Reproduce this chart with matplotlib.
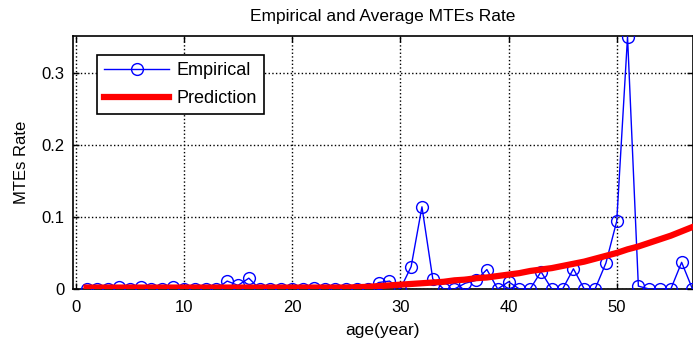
import matplotlib
matplotlib.use("Agg")
import matplotlib.pyplot as plt

plt.rcParams['font.family'] = ['Liberation Sans', 'DejaVu Sans']

ages = list(range(1, 58))
empirical = [0, 0, 0, 0.003, 0, 0.003, 0, 0, 0.003, 0,
             0, 0, 0, 0.011, 0.005, 0.015, 0, 0, 0, 0,
             0, 0.002, 0, 0, 0, 0, 0, 0.009, 0.011, 0,
             0.031, 0.114, 0.014, 0, 0, 0.008, 0.012, 0.027, 0, 0.010,
             0, 0, 0.024, 0, 0, 0.028, 0, 0, 0.036, 0.094,
             0.350, 0.004, 0, 0, 0, 0.037, 0]
prediction = [0.002, 0.002, 0.002, 0.002, 0.002, 0.002, 0.002, 0.002, 0.002, 0.002,
              0.002, 0.002, 0.002, 0.002, 0.002, 0.002, 0.002, 0.002, 0.002, 0.002,
              0.002, 0.002, 0.002, 0.002, 0.002, 0.0025, 0.003, 0.004, 0.005, 0.006,
              0.007, 0.008, 0.009, 0.010, 0.012, 0.013, 0.015, 0.016, 0.018, 0.020,
              0.022, 0.025, 0.027, 0.029, 0.032, 0.035, 0.038, 0.042, 0.046, 0.050,
              0.055, 0.059, 0.064, 0.069, 0.074, 0.080, 0.086]

xticks = [0, 10, 20, 30, 40, 50]
yticks = [0, 0.1, 0.2, 0.3]
ytick_labels = ['0', '0.1', '0.2', '0.3']

fig = plt.figure(figsize=(6.93, 3.46), dpi=100)
ax = fig.add_axes([73/693, 1 - 289/346, 1 - 73/693, (289 - 36)/346])

ax.plot(ages, empirical, color='blue', lw=1, marker='o', ms=8.5,
        mfc='none', mec='blue', mew=1, label='Empirical', zorder=3)
ax.plot(ages, prediction, color='red', lw=4.5, label='Prediction', zorder=4)

ax.set_xlim(-0.25, 57.05)
ax.set_ylim(0, 0.351)
ax.set_xticks(xticks)
ax.set_yticks(yticks)
ax.set_yticklabels(ytick_labels)
ax.tick_params(direction='in', length=4, width=1, labelsize=12, colors='black',
               top=True, right=True)
ax.tick_params(axis='x', pad=8)
ax.tick_params(axis='y', pad=6)
ax.grid(True, color='black', linestyle=':', linewidth=1)
for s in ax.spines.values():
    s.set_linewidth(1.2)
    s.set_color('black')

ax.set_title('Empirical and Average MTEs Rate', fontsize=12.5, pad=11)
ax.set_xlabel('age(year)', fontsize=12.5, labelpad=6)
ax.set_ylabel('MTEs Rate', fontsize=12, labelpad=9)

leg = ax.legend(loc='upper left', bbox_to_anchor=(0.039, 0.925), fontsize=13,
                fancybox=False, framealpha=1, edgecolor='black',
                handlelength=3.6, handletextpad=0.4, borderpad=0.4,
                labelspacing=0.6, borderaxespad=0)
leg.get_frame().set_linewidth(1.2)

fig.savefig('out.png', dpi=100)
